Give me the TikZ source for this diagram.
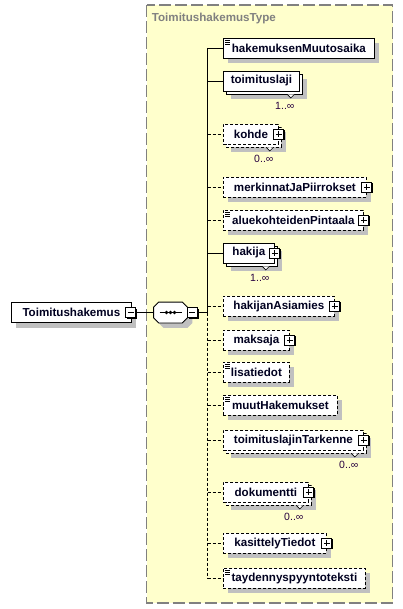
\documentclass[tikz,border=0pt]{standalone}
\usepackage{fontspec}
\setmainfont{Liberation Sans}
\usepackage{tikz}
\usetikzlibrary{shadows,positioning}

\definecolor{typefill}{RGB}{255,255,204}
\definecolor{typeline}{RGB}{128,128,128}
\definecolor{shadowgray}{RGB}{192,192,192}
\definecolor{nametext}{RGB}{0,0,32}
\definecolor{occtext}{RGB}{40,0,64}

\tikzset{
  elem/.style={draw=black, fill=white, minimum height=20pt, inner sep=1pt,
    minimum width=#1, anchor=west,
    font=\fontsize{11.6}{13}\selectfont\bfseries, text=nametext},
  single/.style={drop shadow={shadow xshift=5pt, shadow yshift=-5pt, fill=shadowgray, opacity=1}},
  many/.style={drop shadow={shadow xshift=8pt, shadow yshift=-8pt, fill=shadowgray, opacity=1},
    copy shadow={shadow xshift=3pt, shadow yshift=-3pt, draw=black, fill=white, #1}},
  many/.default=solid,
  opt/.style={dash pattern=on 3pt off 2pt},
  simple/.style={path picture={
    \foreach \k in {2,4,6}
      \draw[solid, line width=0.7pt] ([xshift=2pt,yshift=-\k pt]path picture bounding box.north west) -- ++(5pt,0);}},
  signbox/.style={draw=black, fill=white, solid, minimum size=10pt, inner sep=0pt,
    drop shadow={shadow xshift=1.2pt, shadow yshift=-1.2pt, fill=black, opacity=1}},
  plusbox/.style={signbox, path picture={
    \draw[solid] ([xshift=2pt]path picture bounding box.west) -- ([xshift=-2pt]path picture bounding box.east)
      ([yshift=-2pt]path picture bounding box.north) -- ([yshift=2pt]path picture bounding box.south);}},
  minusbox/.style={signbox, path picture={
    \draw[solid] ([xshift=2pt]path picture bounding box.west) -- ([xshift=-2pt]path picture bounding box.east);}},
  seqbox/.style={minimum width=33pt, minimum height=20pt, inner sep=0pt},
  seqshape/.style={draw=black, fill=white, single},
  occurs/.style={font=\fontsize{10.5}{12}\selectfont, text=occtext, inner sep=0pt, anchor=north east},
  notch/.style={draw=black, fill=white, line width=0.6pt},
  optline/.style={dash pattern=on 3pt off 2pt},
  typeframe/.style={fill=typefill, draw=typeline, line width=1.5pt, dash pattern=on 12pt off 4pt},
  typetitle/.style={anchor=west, inner sep=0pt, font=\fontsize{11.6}{13}\selectfont\bfseries, text=typeline}
}

\begin{document}
\begin{tikzpicture}[x=1pt, y=-1pt, line width=0.8pt]
\useasboundingbox (0,0) rectangle (403,609);

% complex type frame
\draw[typeframe] (146.5,5) rectangle (392.5,603);
\node[typetitle] (typetitle) at (151.5,19) {ToimitushakemusType};

% root element and sequence
\node[elem=120pt, single] (toimitushakemus) at (11,312.5) {Toimitushakemus};
\node[minusbox] (toimitushakemusminus) at ([xshift=-1pt]toimitushakemus.east) {};
\node[seqbox] (seq) at (170.5,312.5) {};
\draw[seqshape] ([xshift=5pt]seq.north west) -- ([xshift=-5pt]seq.north east)
  -- ([yshift=-5pt]seq.north east) -- ([yshift=5pt]seq.south east)
  -- ([xshift=-5pt]seq.south east) -- ([xshift=5pt]seq.south west)
  -- ([yshift=5pt]seq.south west) -- ([yshift=-5pt]seq.north west) -- cycle;
\draw ([xshift=-11pt]seq.center) -- ([xshift=11pt]seq.center);
\foreach \d in {-4,0,4}
  \fill ([xshift=\d pt]seq.center) circle (1.8pt);
\node[minusbox, right=-0.5pt of seq] (seqminus) {};

% children
\node[elem=151pt, single, simple] (muutosaika) at (223,48) {hakemuksenMuutosaika};
\node[elem=76pt, many] (toimituslaji) at (223,81) {toimituslaji};
\node[elem=55pt, opt, many=opt] (kohde) at (223,134) {kohde};
\node[elem=143pt, opt, single] (merkinnat) at (223,187) {merkinnatJaPiirrokset};
\node[elem=140pt, opt, single, simple] (aluekohteet) at (223,220) {aluekohteidenPintaala};
\node[elem=51pt, many] (hakija) at (223,253) {hakija};
\node[elem=111pt, opt, single] (asiamies) at (223,306) {hakijanAsiamies};
\node[elem=66pt, opt, single] (maksaja) at (223,340) {maksaja};
\node[elem=66pt, opt, single, simple] (lisatiedot) at (223,372) {lisatiedot};
\node[elem=114pt, opt, single, simple] (muut) at (223,405) {muutHakemukset};
\node[elem=140pt, opt, many=opt] (tarkenne) at (223,440) {toimituslajinTarkenne};
\node[elem=85pt, opt, many=opt] (dokumentti) at (223,492) {dokumentti};
\node[elem=103pt, opt, single] (kasittely) at (223,543) {kasittelyTiedot};
\node[elem=142pt, opt, single, simple] (taydennys) at (223,578) {taydennyspyyntoteksti};

% expand boxes
\foreach \n in {kohde,merkinnat,aluekohteet,hakija,asiamies,maksaja,tarkenne,dokumentti,kasittely}
  \node[plusbox] (\n plus) at (\n.east) {};

% occurrences
\foreach \n/\occ in {toimituslaji/1, kohde/0, hakija/1, tarkenne/0, dokumentti/0} {
  \draw[notch] ([xshift=-12.5pt,yshift=-3pt]\n.south east) -- ++(3.5,3.5) -- ++(3.5,-3.5);
  \node[occurs] (\n occ) at ([xshift=-5pt,yshift=-10pt]\n.south east) {\occ..∞};
}

% connectors
\coordinate (spine) at (207.5,48);
\draw (toimitushakemusminus.east) -- (seq.west);
\draw (seqminus.east) -- (spine |- seqminus.east);
\draw (spine |- muutosaika.west) -- (spine |- seqminus.east);
\draw[optline] (spine |- seqminus.east) -- (spine |- taydennys.west);
\foreach \n in {muutosaika,toimituslaji,hakija}
  \draw (spine |- \n.west) -- (\n.west);
\foreach \n in {kohde,merkinnat,aluekohteet,asiamies,maksaja,lisatiedot,muut,tarkenne,dokumentti,kasittely,taydennys}
  \draw[optline] (spine |- \n.west) -- (\n.west);

\end{tikzpicture}
\end{document}
